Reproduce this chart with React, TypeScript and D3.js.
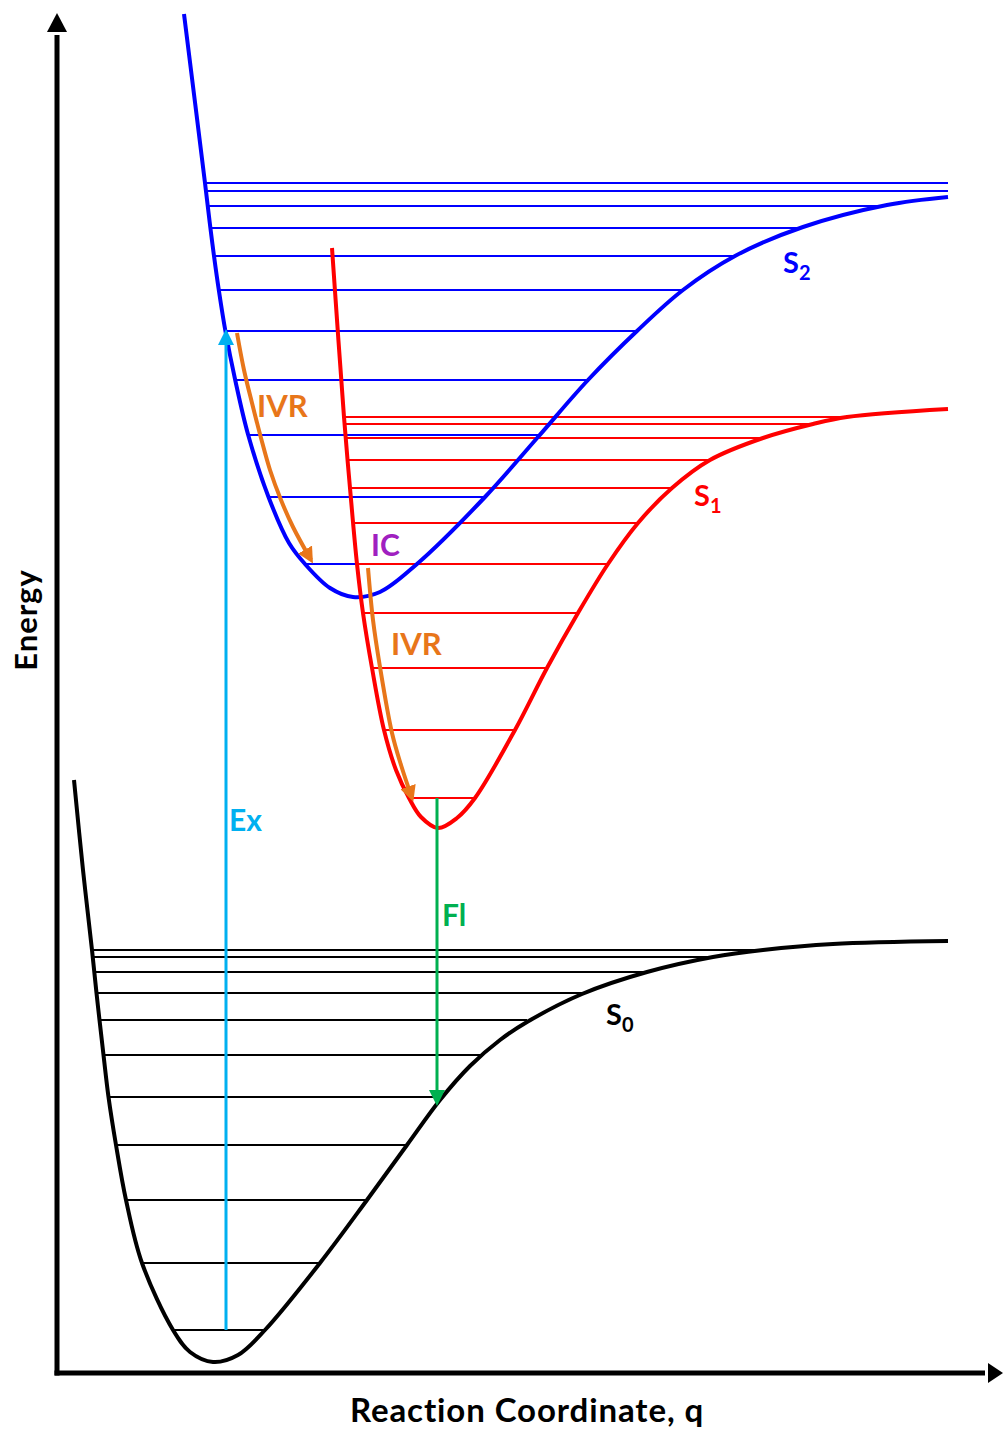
import React from 'react';
import * as d3 from 'd3';

const W = 1003;
const H = 1430;

// Potential energy curves: [reaction coordinate q, energy E] (arbitrary units)
const s0Curve: [number, number][] = [
  [17, 593], [26, 503], [35, 423], [39.5, 380], [42.5, 353], [46.5, 318], [51.5, 276], [59, 228],
  [69, 173], [85, 110], [116, 43], [133, 21], [156, 11], [181, 18], [208, 43], [263, 110],
  [310, 173], [350, 228], [383, 273], [413, 307], [443, 333], [470, 351], [525, 379], [590, 401],
  [656, 416], [706, 423], [776, 429], [891, 432],
];
const s1Curve: [number, number][] = [
  [275, 1125], [287, 956], [293, 885], [300, 809], [306, 760],
  [315, 705], [327, 643], [339, 603], [352, 575], [364, 556], [381, 545], [400, 555],
  [418, 575], [458, 643], [490, 705], [521, 760], [551, 809], [581, 850], [615, 885],
  [653, 913], [706, 935], [756, 949], [790, 956], [891, 964],
];
const s2Curve: [number, number][] = [
  [127, 1359], [148, 1190], [153.4, 1145], [157, 1117], [161.8, 1083],
  [168.4, 1042], [178.2, 993], [191.2, 938], [211.5, 876], [232, 830], [248, 809], [273, 785],
  [296, 776], [323, 781], [360, 809], [428, 876], [481, 936], [531, 993], [580, 1042],
  [626, 1083], [678, 1117], [746, 1146], [830, 1168], [891, 1176],
];

// Vibrational levels: [E, qLeft, qRight]
const s0Levels: [number, number, number][] = [
  [43, 116, 208], [110, 85, 263], [173, 69, 310], [228, 59, 350], [276, 51.5, 380],
  [318, 46.5, 426], [353, 42.5, 470], [380, 39.5, 525], [401, 37, 590], [416, 35.5, 656], [423, 35, 706],
];
const s1Levels: [number, number, number][] = [
  [575, 352, 418], [643, 327, 458], [705, 315, 490], [760, 306, 521], [809, 300, 551],
  [850, 296, 581], [885, 293, 615], [913, 291, 653], [935, 289, 706], [949, 288, 756], [956, 287, 790],
];
const s2Levels: [number, number, number][] = [
  [809, 248, 360], [876, 211.5, 428], [938, 191.2, 481], [993, 178.2, 531], [1042, 168.4, 580],
  [1083, 161.8, 626], [1117, 157, 678], [1145, 153.4, 746], [1167, 150.8, 830], [1182, 149, 891], [1190, 148, 891],
];

// Transitions
const exArrow: [number, number][] = [[169, 43], [169, 1040]];
const flArrow: [number, number][] = [[380, 575], [380, 271]];
const ivr1Arrow: [number, number][] = [[180, 1040], [187, 1003], [195, 970], [204, 935], [213, 903], [224, 873], [236, 846], [254, 813]];
const ivr2Arrow: [number, number][] = [[311, 805], [316, 753], [323, 706], [335, 640], [344, 608], [355, 575]];

const FONT = "Lato, 'Open Sans', sans-serif";

export default function App() {
  const x = d3.scaleLinear().domain([0, 946]).range([57, 1003]);
  const y = d3.scaleLinear().domain([0, 1360]).range([1373, 13]);
  const curve = d3
    .line<[number, number]>()
    .x((d) => x(d[0]))
    .y((d) => y(d[1]))
    .curve(d3.curveCatmullRom.alpha(0.5));
  const straight = d3
    .line<[number, number]>()
    .x((d) => x(d[0]))
    .y((d) => y(d[1]));

  const levels = (data: [number, number, number][], color: string, key: string) =>
    data.map((d, i) => (
      <line key={key + i} x1={x(d[1])} x2={x(d[2])} y1={y(d[0])} y2={y(d[0])} stroke={color} strokeWidth={2} />
    ));

  const marker = (id: string, color: string) => (
    <marker id={id} markerUnits="userSpaceOnUse" markerWidth={16} markerHeight={16} refX={12} refY={8} orient="auto" viewBox="0 0 16 16">
      <path d="M0,0 L16,8 L0,16 Z" fill={color} />
    </marker>
  );

  const orange = '#E8761A';
  const cyan = '#00B0F0';
  const green = '#00B050';
  const purple = '#A020C0';

  return (
    <svg width={W} height={H} style={{ position: 'absolute', left: 0, top: 0, background: '#fff' }}>
      <defs>
        {marker('mOrange', orange)}
        {marker('mCyan', cyan)}
        {marker('mGreen', green)}
      </defs>
      <rect x={0} y={0} width={W} height={H} fill="#fff" />

      {/* vibrational levels */}
      {levels(s0Levels, '#000', 's0')}
      {levels(s2Levels, '#0000FF', 's2')}
      {levels(s1Levels, '#FF0000', 's1')}

      {/* potential curves */}
      <path d={curve(s0Curve) || ''} fill="none" stroke="#000" strokeWidth={4} />
      <path d={curve(s2Curve) || ''} fill="none" stroke="#0000FF" strokeWidth={4} />
      <path d={curve(s1Curve) || ''} fill="none" stroke="#FF0000" strokeWidth={4} />

      {/* transitions */}
      <path d={straight(exArrow) || ''} fill="none" stroke={cyan} strokeWidth={3} markerEnd="url(#mCyan)" />
      <path d={straight(flArrow) || ''} fill="none" stroke={green} strokeWidth={3} markerEnd="url(#mGreen)" />
      <path d={curve(ivr1Arrow) || ''} fill="none" stroke={orange} strokeWidth={4} markerEnd="url(#mOrange)" />
      <path d={curve(ivr2Arrow) || ''} fill="none" stroke={orange} strokeWidth={4} markerEnd="url(#mOrange)" />

      {/* axes */}
      <line x1={x(0)} x2={x(0)} y1={y(0) + 2.5} y2={y(1338)} stroke="#000" strokeWidth={5} />
      <path d={`M${x(0) - 10},${y(1341)} L${x(0) + 10},${y(1341)} L${x(0)},${y(1360)} Z`} fill="#000" />
      <line x1={x(0) - 2.5} x2={x(928)} y1={y(0)} y2={y(0)} stroke="#000" strokeWidth={5} />
      <path d={`M${x(931)},${y(0) - 10} L${x(931)},${y(0) + 10} L${x(946)},${y(0)} Z`} fill="#000" />

      {/* labels */}
      <g fontFamily={FONT} fontWeight="bold">
        <text x={783} y={273} fontSize={29} fill="#0000FF">
          S<tspan fontSize={20} dy={7}>2</tspan>
        </text>
        <text x={694} y={506} fontSize={29} fill="#FF0000">
          S<tspan fontSize={20} dy={7}>1</tspan>
        </text>
        <text x={606} y={1025} fontSize={29} fill="#000">
          S<tspan fontSize={20} dy={7}>0</tspan>
        </text>
        <text x={257} y={417} fontSize={31} fill={orange}>IVR</text>
        <text x={391} y={655} fontSize={31} fill={orange}>IVR</text>
        <text x={371} y={556} fontSize={30} fill={purple}>IC</text>
        <text x={229} y={831} fontSize={30} fill={cyan}>Ex</text>
        <text x={442} y={926} fontSize={30} fill={green}>Fl</text>
        <text x={527} y={1422} fontSize={33} letterSpacing={0.9} fill="#000" textAnchor="middle">Reaction Coordinate, q</text>
        <text transform="translate(37,620) rotate(-90)" fontSize={31} letterSpacing={1} fill="#000" textAnchor="middle">Energy</text>
      </g>
    </svg>
  );
}
